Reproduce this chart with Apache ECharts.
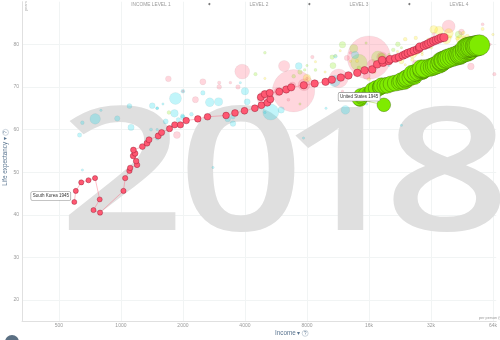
<!DOCTYPE html>
<html><head><meta charset="utf-8">
<script src="https://cdn.jsdelivr.net/npm/echarts@6/dist/echarts.min.js"></script>
<style>html,body{margin:0;padding:0;background:#fff;overflow:hidden}#c{width:500px;height:340px}</style>
</head><body><div id="c"></div>
<script>
// ---------------- DATA ----------------
const INCOME_UNIT = 500;               // x axis ticks: 500, 1000, 2000 ...
const watermarkYear = '2018';
const trailStartYear = 1945;
const levelLabels = ['INCOME LEVEL 1', 'LEVEL 2', 'LEVEL 3', 'LEVEL 4'];

// South Korea trail 1945..2018
const skIncome = [594,604,642,696,749,789,736,792,1029,1049,1100,1109,1198,1185,1146,1172,1150,1271,1339,1369,
  1518,1576,1722,1826,1945,2075,2362,2633,3240,3580,3980,4470,4810,5140,5315,4777,4993,5278,5872,6346,
  6708,7722,8724,9854,10570,11680,12720,14050,15240,16600,17540,18750,19970,18540,20270,21500,22400,23400,24060,24740,
  25580,26450,27490,28110,28270,29700,30540,31220,32110,33020,33950,34910,35890,37020];
const skLife = [43.0,45.6,47.6,48.1,48.6,43.6,41.1,40.5,45.6,48.6,50.3,51.0,51.7,52.6,53.8,54.4,55.2,56.0,56.8,57.6,
  58.5,59.3,60.2,61.1,61.1,62.1,62.5,63.0,63.3,63.9,64.4,65.0,65.7,66.3,67.1,67.6,68.3,68.6,68.9,69.4,
  69.9,70.4,70.8,71.2,71.7,72.2,72.7,73.3,73.9,74.1,75.3,75.7,76.1,76.3,76.5,76.7,77.0,77.4,77.65,77.96,
  78.2,78.5,78.8,79.1,79.4,79.7,79.95,80.2,80.5,80.8,81.0,81.25,81.5,81.6];
const skPop = [19.4,19.9,20.2,20.0,20.2,19.2,19.5,20.3,20.9,21.5,22.0,22.7,23.3,24.0,24.7,25.3,25.9,26.5,27.2,27.8,
  28.4,29.0,29.6,30.2,30.8,32.2,32.9,33.5,34.1,34.7,35.3,35.8,36.4,36.9,37.5,38.1,38.7,39.3,39.9,40.4,
  40.8,41.2,41.6,42.0,42.4,42.9,43.3,43.7,44.2,44.6,45.0,45.5,45.9,46.3,46.6,46.9,47.2,47.4,47.6,47.8,
  48.0,48.3,48.6,48.9,49.2,49.6,49.9,50.2,50.4,50.7,50.8,51.0,51.1,51.2];

// United States trail 1945..2018
const usIncome = [18900,14500,14300,14700,14600,15400,16100,16400,16900,16600,17400,17500,17600,17300,18100,18200,18400,19100,19700,20500,
  21500,22500,22900,23700,24200,24000,24500,25400,26500,26200,25900,26900,27800,28800,29300,29000,29400,28700,29700,31400,
  32400,33200,33900,35000,35900,36200,35700,36500,36900,37900,38400,39300,40500,41700,43000,44100,44000,44900,45600,46800,
  47800,48700,49300,48900,47100,48000,48700,49600,50300,51300,52500,53100,54000,55000];
const usLife = [65.8,67.0,67.2,67.6,68.0,68.3,68.4,68.6,68.8,69.3,69.5,69.6,69.5,69.7,69.9,70.0,70.3,70.3,70.4,70.7,
  70.9,71.1,71.4,71.3,71.6,71.9,72.1,72.3,72.5,72.8,73.1,73.3,73.5,73.7,73.9,74.0,74.1,74.3,74.3,74.5,
  74.7,74.9,75.1,75.3,75.6,75.8,76.0,76.2,76.2,76.5,76.6,76.8,77.0,77.2,77.4,77.5,77.7,77.8,78.0,78.2,
  78.3,78.5,78.7,78.8,79.0,79.2,79.3,79.4,79.4,79.5,79.6,79.6,79.7,79.8];
const usPop = [140,141.4,144.1,146.6,149.2,152.3,154.9,157.6,160.2,163.0,165.9,168.9,172.0,174.9,177.8,180.7,183.7,186.5,189.2,191.9,
  194.3,196.6,198.7,200.7,202.7,205.1,207.7,209.9,211.9,213.9,216.0,218.0,220.2,222.6,225.1,227.2,229.5,231.7,233.8,235.8,
  237.9,240.1,242.3,244.5,246.8,249.6,253.0,256.5,259.9,263.1,266.3,269.4,272.7,275.9,279.0,282.2,285.0,287.6,290.1,292.8,
  295.5,298.4,301.2,304.1,306.8,309.3,311.6,313.9,316.1,318.4,320.7,323.1,325.1,327.1];

// Other countries, 2018 (faded)
const africaIncome = [5340,1840,10900,750,2700,12300,2980,1820,13700,4000,7300,6000,1120,4100,1420,3300,3500,960,1650,2000,1100,3500,2500,1800,630,1900,1990,2000,2200,650,11000,1500,1500,1400,15000,5000,800,650,3800,1500,9900,15600,2800,1600,15000,1500,20000,23000,7700];
const africaLife = [64.1,67.3,71.4,62.5,66.4,64.6,66.5,63.8,77.5,69.0,74.9,64.6,60.5,66.5,65.6,62.5,61.4,62.6,61.9,62.8,65.5,63.0,68.6,61.0,58.7,62.3,63.2,69.0,63.6,61.6,77.2,58.0,65.0,60.0,74.0,64.0,64.5,50.5,71.0,65.0,65.0,66.0,51.1,66.0,67.0,60.0,75.0,61.0,58.0];
const africaPop = [196,109,99,84,59,57,51,44,42,42,36,31,30,29,26,25,25,22,20,19,19,17.6,16,15,15,14.4,13,12.5,11.5,11,11.7,12.9,8,7.7,6.5,5.2,4.8,4.7,4.5,5,2.5,2.3,2.1,2.2,2.1,1.9,1.3,1.3,1.1];

const americasIncome = [14300,17700,13500,18500,43600,11900,10700,22100,7400,10600,21000,1710,6900,14300,4500,8800,5000,7800,15500,23000,20000,8000,30000,7400];
const americasLife = [75.7,76.9,79.0,77.0,82.3,79.9,75.0,80.0,73.5,77.0,78.7,64.0,72.5,74.5,73.0,74.0,78.0,74.0,80.3,79.2,77.6,75.0,73.0,66.0];
const americasPop = [209,130,50,44,37,32,29,18,17,17,11,11,11,10.6,9.6,7,6.5,6.4,5,4.2,3.5,2.9,1.4,0.8];

const asiaIncome = [16000,6890,11400,5030,3880,39000,7750,6200,18500,16600,5800,15600,1870,50000,6800,27000,2500,2300,1700,45000,12500,3000,24000,3700,8500,3000,65000,33000,3500,57000,6500,13000,3400,36000,36000,62000,11900,8000,2000];
const asiaLife = [76.9,69.1,72.0,67.3,73.6,84.2,70.5,74.9,77.0,75.3,68.9,72.6,58.7,74.8,70.4,75.5,71.2,67.0,71.9,82.9,76.8,70.0,72.5,70.0,77.0,71.0,73.0,82.4,64.0,84.7,67.0,78.0,71.0,81.9,77.0,80.0,69.0,72.0,69.0];
const asiaPop = [1415,1354,267,201,166,127,107,96,82,69,54,39,37,34,33,32,29,29,26,25,21,18,18,16,10,9,9.5,8.5,8.4,7.4,7,6,6,4.7,4.8,4,3.1,0.8,1.3];

const europeIncome = [25000,45000,26000,38000,39000,35000,33000,8000,27000,23000,48000,43000,24000,32000,27000,46000,26000,17000,16000,46000,57000,14000,18000,46000,40000,64000,29000,22000,9800,5000,11000,8800,11600,29000,31000,13000,24000,29000];
const europeLife = [71.5,81.1,78.0,81.2,82.6,83.2,83.5,72.1,78.3,76.0,81.8,81.4,81.2,79.3,81.5,82.7,76.4,73.5,71.8,81.5,83.6,76.1,75.1,80.9,81.7,82.3,77.6,78.3,73.5,72.0,77.3,75.9,78.5,75.9,81.2,76.0,75.2,78.1];
const europePop = [144,82,82,67,65,61,46,44,38,20,17,11.5,11,10.6,10.3,10,9.7,9.5,9.9,8.8,8.5,8.8,7,5.8,5.5,5.3,5.4,4.2,3.9,4,3.5,3,2.9,2.8,2.1,2.1,1.9,1.3];

// ---------------- BUILD ----------------
const regionColors = ['rgba(0,213,233,0.3)','rgba(127,235,0,0.3)','rgba(255,88,114,0.3)','rgba(255,231,0,0.32)'];
const regions = [[africaIncome,africaLife,africaPop],[americasIncome,americasLife,americasPop],[asiaIncome,asiaLife,asiaPop],[europeIncome,europeLife,europePop]];
let bg = [];
regions.forEach((r, ri) => r[0].forEach((inc, i) => bg.push([inc / INCOME_UNIT, r[1][i], r[2][i], ri])));
bg.sort((a, b) => b[2] - a[2]);

const K = 1.15;
const sz = p => Math.max(2.5, K * Math.sqrt(p));
const skData = skIncome.map((v, i) => [v / INCOME_UNIT, skLife[i], skPop[i]]);
const usData = usIncome.map((v, i) => [v / INCOME_UNIT, usLife[i], usPop[i]]);

const FONT = '"Liberation Sans", Arial, sans-serif';
const labelBox = {fontSize: 4.5, fontFamily: FONT, color: '#333', backgroundColor: '#fff', borderColor: '#8a8a8a',
  borderWidth: 0.6, borderRadius: 1, padding: [1.6, 1.5, 1.2, 1.5]};
skData[0] = {value: skData[0], label: Object.assign({show: true, position: 'left', distance: 1, offset: [0, -6],
  formatter: 'South Korea ' + trailStartYear}, labelBox)};
usData[0] = {value: usData[0], label: Object.assign({show: true, position: 'left', distance: 1, offset: [4, -8],
  formatter: 'United States ' + trailStartYear}, labelBox)};

const digitX = [122, 241, 342, 447];
const levelX = [151, 259, 359, 459];
const diamondX = [209.3, 309.3, 409.3];
const q = {width: 6, height: 6, borderRadius: 3, borderColor: '#a9b8c6', borderWidth: 0.6, align: 'center',
  fontSize: 4.5, color: '#a9b8c6', fontFamily: FONT, lineHeight: 6};

const graphic = [];
watermarkYear.split('').forEach((d, i) => graphic.push({type: 'text', z: 1, x: digitX[i], y: 181, scaleX: 1.28,
  style: {text: d, fill: '#dfdfdf', fontSize: 172, fontWeight: 600, fontFamily: '"Open Sans", sans-serif',
    textAlign: 'center', textVerticalAlign: 'middle', align: 'center', verticalAlign: 'middle'}}));
levelLabels.forEach((t, i) => graphic.push({type: 'text', z: 10, x: levelX[i], y: 4.5,
  style: {text: t, fill: '#9a9a9a', fontSize: 4.8, fontFamily: FONT, textAlign: 'center', textVerticalAlign: 'middle', align: 'center', verticalAlign: 'middle'}}));
diamondX.forEach(x => graphic.push({type: 'text', z: 10, x: x, y: 4.3,
  style: {text: '◆', fill: '#777', fontSize: 3.5, fontFamily: '"DejaVu Sans"', textAlign: 'center', textVerticalAlign: 'middle', align: 'center', verticalAlign: 'middle'}}));
graphic.push({type: 'text', z: 10, x: 25.5, y: 6, rotation: Math.PI / 2,
  style: {text: 'years', fill: '#aaa', fontSize: 4, fontFamily: FONT, textAlign: 'center', textVerticalAlign: 'middle', align: 'center', verticalAlign: 'middle'}});
graphic.push({type: 'text', z: 10, x: 5.5, y: 157.5, rotation: Math.PI / 2,
  style: {text: 'Life expectancy ▾ {q|?}', rich: {q: q}, fill: '#5a7590', fontSize: 6.3, fontFamily: FONT,
    textAlign: 'center', textVerticalAlign: 'middle', align: 'center', verticalAlign: 'middle'}});
graphic.push({type: 'text', z: 10, x: 275, y: 333.3,
  style: {text: 'Income ▾ {q|?}', rich: {q: q}, fill: '#5a7590', fontSize: 6.3, fontFamily: FONT,
    textAlign: 'left', textVerticalAlign: 'middle', align: 'left', verticalAlign: 'middle'}});
graphic.push({type: 'text', z: 10, x: 479, y: 317.5,
  style: {text: 'per person (GDP/capita, PPP$ inflation-adjusted)', fill: '#999', fontSize: 3.8, fontFamily: FONT,
    textAlign: 'left', textVerticalAlign: 'middle', align: 'left', verticalAlign: 'middle'}});
graphic.push({type: 'circle', z: 10, shape: {cx: 12, cy: 342, r: 7}, style: {fill: '#5b7083'}});

const chart = echarts.init(document.getElementById('c'), null, {renderer: 'canvas'});
chart.setOption({
  animation: false,
  backgroundColor: '#fff',
  grid: {left: 22, right: 0, top: 1.7, bottom: 18.7, containLabel: false},
  xAxis: {type: 'log', logBase: 2, min: Math.pow(2, -0.595), max: Math.pow(2, 7.053), splitNumber: 8,
    axisLine: {show: true, lineStyle: {color: '#e0e0e0', width: 1}}, axisTick: {show: false},
    axisLabel: {color: '#9a9a9a', fontSize: 5, fontFamily: FONT, margin: 1.5, showMinLabel: false, showMaxLabel: false,
      formatter: v => { const inc = Math.round(v * INCOME_UNIT); return inc >= 16000 ? Math.round(inc / 1000) + 'k' : String(inc); }},
    splitLine: {show: true, showMinLine: false, showMaxLine: false, lineStyle: {color: '#f1f4f4', width: 1}}},
  yAxis: {type: 'value', min: 15, max: 90, splitNumber: 8,
    axisLine: {show: true, lineStyle: {color: '#e0e0e0', width: 1}}, axisTick: {show: false},
    axisLabel: {color: '#9a9a9a', fontSize: 5, fontFamily: FONT, margin: 3, showMinLabel: false, showMaxLabel: false},
    splitLine: {show: true, showMinLine: false, showMaxLine: false, lineStyle: {color: '#f1f4f4', width: 1}}},
  graphic: graphic,
  series: [
    {type: 'scatter', z: 3, data: bg, symbolSize: v => sz(v[2]),
      itemStyle: {color: p => regionColors[p.value[3]], borderColor: 'rgba(0,0,0,0.1)', borderWidth: 0.5}},
    {type: 'line', z: 5, data: usData, symbol: 'circle', showAllSymbol: true, symbolSize: v => sz(v[2]),
      lineStyle: {color: 'rgba(127,200,0,0.6)', width: 0.7},
      itemStyle: {color: '#7feb00', borderColor: 'rgba(40,70,0,0.55)', borderWidth: 0.6}},
    {type: 'line', z: 6, data: skData, symbol: 'circle', showAllSymbol: true, symbolSize: v => sz(v[2]),
      lineStyle: {color: 'rgba(255,88,114,0.55)', width: 0.7},
      itemStyle: {color: '#ff5872', borderColor: 'rgba(110,0,20,0.55)', borderWidth: 0.6}}
  ]
});
</script></body></html>
